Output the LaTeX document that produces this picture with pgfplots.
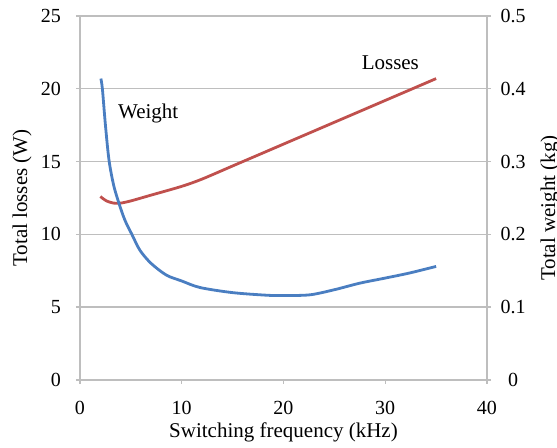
\documentclass[border=0pt]{standalone}
\usepackage{pgfplots}
\pgfplotsset{compat=1.18}
\usepackage{fontspec}
\setmainfont{Liberation Serif}
\definecolor{wblue}{RGB}{74,126,193}
\definecolor{lred}{RGB}{192,80,77}
\definecolor{gridc}{RGB}{190,190,190}
\begin{document}
\begin{tikzpicture}
\pgfplotsset{
  every axis/.append style={
    scale only axis, width=203.5pt, height=182pt,
    xmin=0, xmax=40,
    tick label style={font=\fontsize{10}{12}\selectfont},
    label style={font=\fontsize{10.5}{12.5}\selectfont},
    /pgf/number format/assume math mode=true,
    axis line style={gridc, line width=0.7pt},
    tick style={gridc, line width=0.7pt},
    tick align=outside,
    major tick length=2pt,
  }
}
\begin{axis}[
  name=ax,
  axis x line*=bottom, axis y line*=left,
  ymin=0, ymax=25,
  xtick={0,10,20,30,40}, ytick={0,5,10,15,20,25},
  ymajorgrids, grid style={gridc, line width=0.7pt},
  xticklabel style={yshift=-5pt},
  yticklabel style={xshift=-4pt},
  xlabel={Switching frequency (kHz)},
  ylabel={Total losses (W)},
  xlabel style={at={(axis description cs:0.5,0)}, anchor=center, yshift=-26pt},
  ylabel style={at={(axis description cs:-0.1425,0.5)}, anchor=center},
]
\addplot[lred, line width=1.4pt, smooth, tension=0.5] coordinates {
 (2.0,12.6) (2.6,12.3) (3.3,12.15) (4,12.15) (5,12.3) (7,12.7) (10,13.3)
 (12,13.8) (15,14.7) (18,15.6) (20,16.2) (25,17.7) (30,19.2) (35,20.7)
};
\node[font=\fontsize{10.5}{12.5}\selectfont] at (axis cs:6.7,18.3) {Weight};
\node[font=\fontsize{10.5}{12.5}\selectfont] at (axis cs:30.5,21.8) {Losses};
\end{axis}
\begin{axis}[
  axis x line=none, axis y line*=right,
  ymin=0, ymax=0.5,
  ytick={0,0.1,0.2,0.3,0.4,0.5},
  yticklabels={0,0.1,0.2,0.3,0.4,0.5},
  yticklabel style={anchor=center, xshift=11pt},
  ylabel={Total weight (kg)},
  ylabel style={at={(axis description cs:1.1548,0.4725)}, anchor=center, rotate=0},
]
\addplot[wblue, line width=1.4pt, smooth, tension=0.5] coordinates {
 (2.05,0.414) (2.2,0.400) (2.5,0.350) (2.85,0.302) (3.3,0.268) (3.8,0.244)
 (4.4,0.220) (5.1,0.200) (5.9,0.178) (7.0,0.160) (8.5,0.144) (10,0.136)
 (11.8,0.127) (15,0.120) (18.4,0.1164) (20,0.116) (22.6,0.117) (25,0.124)
 (27.5,0.133) (30,0.140) (32.4,0.147) (35,0.156)
};
\end{axis}
\pgfresetboundingbox
\path[use as bounding box] ([shift={(-40pt,-34pt)}]ax.south west) rectangle ([shift={(35pt,8pt)}]ax.north east);
\end{tikzpicture}
\end{document}
